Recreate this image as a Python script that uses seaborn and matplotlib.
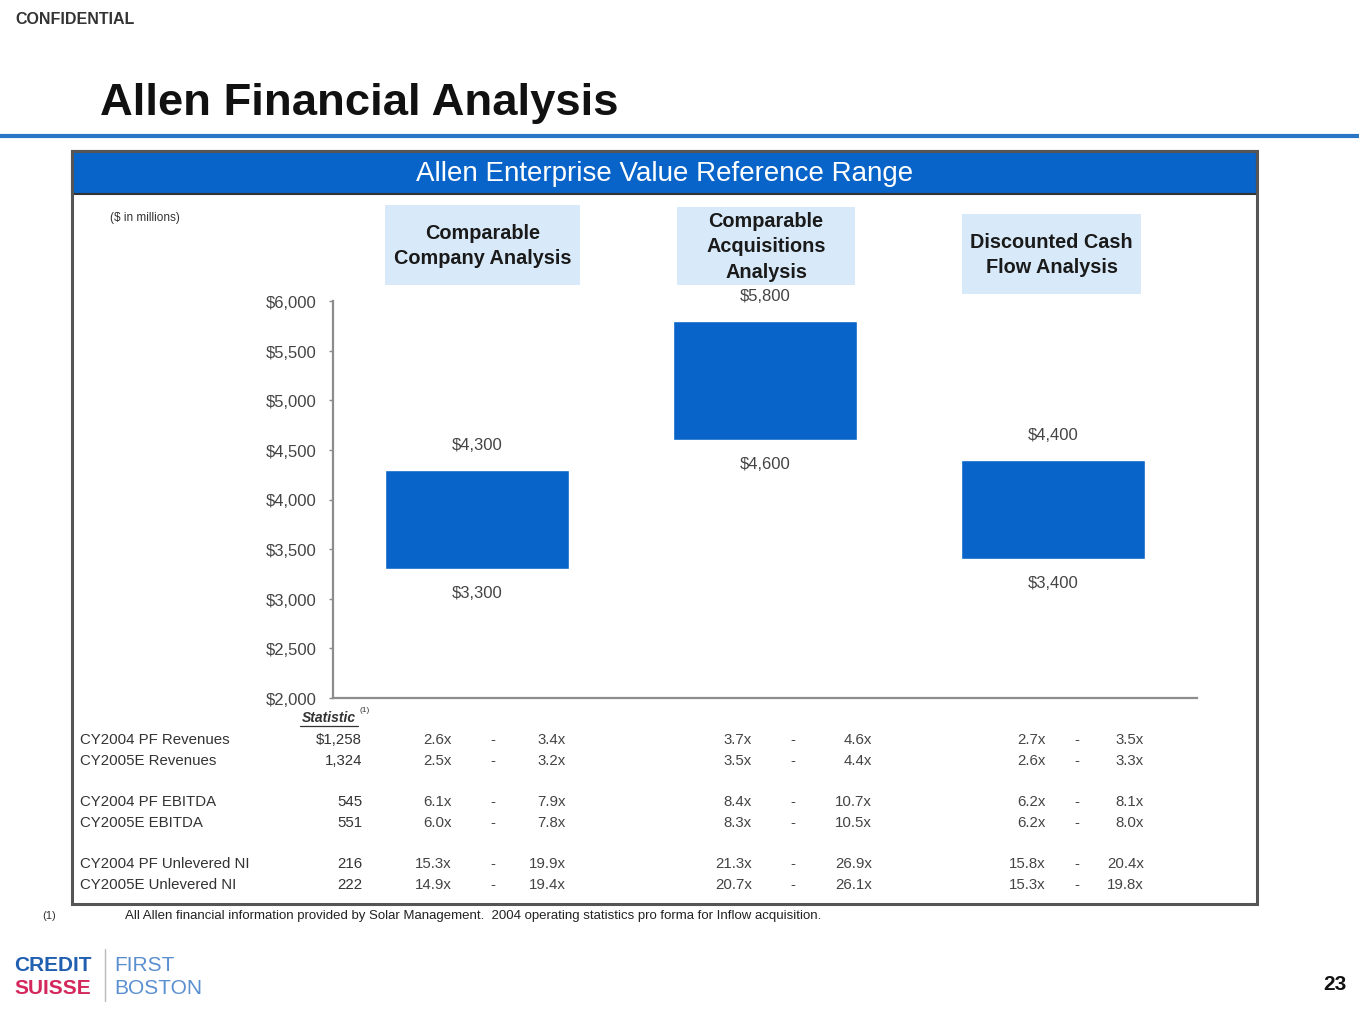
import pandas as pd
import matplotlib
matplotlib.use("Agg")
import matplotlib.pyplot as plt
import seaborn as sns
from matplotlib.patches import Rectangle
from matplotlib.lines import Line2D
from matplotlib.ticker import FuncFormatter

# chart data
methods = ["Comparable Company Analysis", "Comparable Acquisitions Analysis",
           "Discounted Cash Flow Analysis"]
method_titles = ["Comparable\nCompany Analysis", "Comparable\nAcquisitions\nAnalysis",
                 "Discounted Cash\nFlow Analysis"]
ev_low = [3300, 4600, 3400]
ev_high = [4300, 5800, 4400]
y_ticks = [2000, 2500, 3000, 3500, 4000, 4500, 5000, 5500, 6000]

# table data
row_labels = ["CY2004 PF Revenues", "CY2005E Revenues", "CY2004 PF EBITDA",
              "CY2005E EBITDA", "CY2004 PF Unlevered NI", "CY2005E Unlevered NI"]
statistic = ["$1,258", "1,324", "545", "551", "216", "222"]
cca_low = ["2.6x", "2.5x", "6.1x", "6.0x", "15.3x", "14.9x"]
cca_high = ["3.4x", "3.2x", "7.9x", "7.8x", "19.9x", "19.4x"]
caa_low = ["3.7x", "3.5x", "8.4x", "8.3x", "21.3x", "20.7x"]
caa_high = ["4.6x", "4.4x", "10.7x", "10.5x", "26.9x", "26.1x"]
dcf_low = ["2.7x", "2.6x", "6.2x", "6.2x", "15.8x", "15.3x"]
dcf_high = ["3.5x", "3.3x", "8.1x", "8.0x", "20.4x", "19.8x"]

W, H = 1359, 1020
BLUE = "#0864c8"
LIGHT = "#d8eaf9"

sns.set_style("white")
plt.rcParams["font.family"] = ["Liberation Sans", "DejaVu Sans"]

fig = plt.figure(figsize=(W / 100, H / 100), dpi=100)


def fx(x):
    return x / W


def fy(y):
    return 1 - y / H


def box(x0, y0, x1, y1, **kw):
    r = Rectangle((fx(x0), fy(y1)), (x1 - x0) / W, (y1 - y0) / H,
                  transform=fig.transFigure, **kw)
    fig.add_artist(r)
    return r


def txt(x, y, s, **kw):
    kw.setdefault("va", "center")
    return fig.text(fx(x), fy(y), s, **kw)


# slide header
txt(15, 19, "CONFIDENTIAL", fontsize=11.5, fontweight="bold", color="#333333")
txt(100, 104, "Allen Financial Analysis", fontsize=32.7, fontweight="bold", color="#111111")
fig.add_artist(Line2D([0, 1], [fy(137), fy(137)], transform=fig.transFigure,
                      color="#2a74c6", lw=3))

# outer frame and blue band
box(72, 152, 1257, 905, facecolor="none", edgecolor="#555555", lw=2.2, zorder=5)
box(72, 152, 1257, 195, facecolor=BLUE, edgecolor="#333333", lw=1.5, zorder=4)
txt(665, 174, "Allen Enterprise Value Reference Range", fontsize=20,
    color="white", ha="center", zorder=6)
txt(110, 218, "($ in millions)", fontsize=8.5, color="#333333")

# method heading boxes
heads = [(385, 206, 580, 286), (677, 208, 855, 286), (962, 215, 1141, 295)]
for (x0, y0, x1, y1), t in zip(heads, method_titles):
    box(x0, y0, x1, y1, facecolor=LIGHT, edgecolor="none")
    txt((x0 + x1) / 2, (y0 + y1) / 2, t, fontsize=14.3, fontweight="bold",
        color="#1a1a1a", ha="center", linespacing=1.45)

# floating range bars
df = pd.DataFrame({"method": methods, "low": ev_low, "high": ev_high})
df["span"] = df["high"] - df["low"]

ax = fig.add_axes([fx(333), fy(699), (1197 - 333) / W, (699 - 302) / H])
ax.patch.set_alpha(0)
sns.barplot(data=df, x="method", y="span", bottom=df["low"], color=BLUE,
            width=0.64, saturation=1, ax=ax)
ax.set_ylim(2000, 6000)
ax.set_xlim(-0.5, 2.5)
ax.set_yticks(y_ticks)
ax.yaxis.set_major_formatter(FuncFormatter(lambda v, p: f"${v:,.0f}"))
ax.set_xticks([])
ax.set_xlabel("")
ax.set_ylabel("")
for s in ["top", "right"]:
    ax.spines[s].set_visible(False)
for s in ["left", "bottom"]:
    ax.spines[s].set_color("#8c8c8c")
    ax.spines[s].set_linewidth(1.6)
ax.tick_params(axis="y", direction="out", length=3, width=1, color="#8c8c8c",
               labelsize=12, labelcolor="#444444", pad=9, left=True)

for i, (lo, hi) in enumerate(zip(ev_low, ev_high)):
    ax.annotate(f"${hi:,.0f}", (i, hi), xytext=(0, 18), textcoords="offset points",
                ha="center", va="center", fontsize=12, color="#444444")
    ax.annotate(f"${lo:,.0f}", (i, lo), xytext=(0, -17), textcoords="offset points",
                ha="center", va="center", fontsize=12, color="#444444")

# statistics table
row_y = [740, 761, 802, 823, 864, 885]
txt(329, 718, "Statistic", fontsize=10, fontweight="bold", style="italic",
    color="#333333", ha="center")
fig.add_artist(Line2D([fx(300), fx(358)], [fy(727), fy(727)], transform=fig.transFigure,
                      color="#333333", lw=0.9))
txt(360, 711, "(1)", fontsize=6, color="#333333")

cols = [(cca_low, cca_high, 452, 493, 566),
        (caa_low, caa_high, 752, 793, 872),
        (dcf_low, dcf_high, 1046, 1077, 1144)]
for k, y in enumerate(row_y):
    txt(80, y, row_labels[k], fontsize=10.8, color="#333333")
    txt(362, y, statistic[k], fontsize=10.8, color="#333333", ha="right")
    for lows, highs, xl, xd, xh in cols:
        txt(xl, y, lows[k], fontsize=10.8, color="#444444", ha="right")
        txt(xd, y, "-", fontsize=10.8, color="#444444", ha="center")
        txt(xh, y, highs[k], fontsize=10.8, color="#444444", ha="right")

# footnote
txt(42, 916, "(1)", fontsize=8, color="#333333")
txt(125, 916, "All Allen financial information provided by Solar Management.  "
    "2004 operating statistics pro forma for Inflow acquisition.",
    fontsize=9.5, color="#222222")

# logo and page number
txt(14, 966, "CREDIT", fontsize=15, fontweight="bold", color="#2160b0")
txt(14, 989, "SUISSE", fontsize=15, fontweight="bold", color="#d4285c")
fig.add_artist(Line2D([fx(105), fx(105)], [fy(950), fy(1002)], transform=fig.transFigure,
                      color="#bbbbbb", lw=1))
txt(114, 966, "FIRST", fontsize=15, color="#5a8fd0")
txt(114, 989, "BOSTON", fontsize=15, color="#5a8fd0")
txt(1347, 985, "23", fontsize=15, fontweight="bold", color="#111111", ha="right")

fig.savefig("out.png", dpi=100)
